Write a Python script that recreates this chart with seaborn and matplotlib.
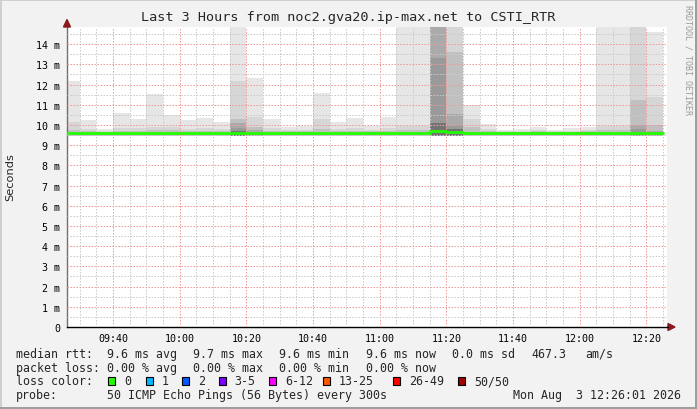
import matplotlib
matplotlib.use("Agg")
import matplotlib.pyplot as plt
import seaborn as sns
from matplotlib.patches import Rectangle, Polygon
from matplotlib.ticker import FixedLocator, MultipleLocator

W, H = 697, 410

# 5 minute steps, start of each step in minutes after 09:00
col_start = [25, 30, 35, 40, 45, 50, 55, 60, 65, 70, 75, 80, 85, 90, 95, 100,
             105, 110, 115, 120, 125, 130, 135, 140, 145, 150, 155, 160, 165,
             170, 175, 180, 185, 190, 195, 200, 205]

# smoke (ms), bottom edge and the upper edges of each grey layer
smoke_min = [9.45, 9.45, 9.45, 9.45, 9.45, 9.45, 9.45, 9.45, 9.45, 9.45, 9.45,
             9.45, 9.45, 9.45, 9.45, 9.45, 9.45, 9.45, 9.45, 9.45, 9.45, 9.45,
             9.45, 9.45, 9.45, 9.45, 9.45, 9.45, 9.45, 9.45, 9.45, 9.45, 9.45,
             9.45, 9.45, 9.45, 9.45]
smoke_max = [12.18, 10.25, 9.78, 10.6, 10.3, 11.53, 10.5, 10.26, 10.35, 10.16,
             15.0, 12.33, 10.3, 9.9, 9.97, 11.58, 10.13, 10.35, 9.93, 10.38,
             15.0, 15.0, 15.0, 15.0, 11.0, 10.05, 9.77, 9.82, 9.92, 9.75, 9.87,
             9.92, 15.0, 15.0, 15.0, 14.6, 9.45]
smoke_l2 = [10.15, 9.8, 9.7, 9.85, 9.85, 9.9, 9.9, 9.8, 9.85, 9.8, 12.2, 10.38,
            9.85, 9.75, 9.75, 10.3, 9.8, 9.85, 9.75, 9.85, 9.95, 9.95, 15.0,
            15.0, 10.3, 9.8, 9.7, 9.72, 9.75, 9.7, 9.72, 9.75, 9.95, 9.95, 15.0,
            11.4, 9.45]
smoke_l3 = [9.75, 9.7, 9.65, 9.72, 9.72, 9.75, 9.75, 9.7, 9.72, 9.7, 10.3, 9.9,
            9.72, 9.68, 9.68, 9.8, 9.7, 9.72, 9.68, 9.72, 9.75, 9.75, 15.0,
            13.6, 9.9, 9.7, 9.65, 9.65, 9.68, 9.65, 9.66, 9.68, 9.75, 9.75,
            11.25, 10.0, 9.45]
smoke_l4 = [9.45, 9.45, 9.45, 9.45, 9.45, 9.45, 9.45, 9.45, 9.45, 9.45, 10.1,
            9.75, 9.45, 9.45, 9.45, 9.45, 9.45, 9.45, 9.45, 9.45, 9.45, 9.45,
            15.0, 10.55, 9.45, 9.45, 9.45, 9.45, 9.45, 9.45, 9.45, 9.45, 9.45,
            9.45, 10.0, 9.7, 9.45]
smoke_l5 = [9.45, 9.45, 9.45, 9.45, 9.45, 9.45, 9.45, 9.45, 9.45, 9.45, 9.85,
            9.45, 9.45, 9.45, 9.45, 9.45, 9.45, 9.45, 9.45, 9.45, 9.45, 9.45,
            13.3, 10.0, 9.45, 9.45, 9.45, 9.45, 9.45, 9.45, 9.45, 9.45, 9.45,
            9.45, 9.8, 9.45, 9.45]
smoke_l6 = [9.45, 9.45, 9.45, 9.45, 9.45, 9.45, 9.45, 9.45, 9.45, 9.45, 9.72,
            9.45, 9.45, 9.45, 9.45, 9.45, 9.45, 9.45, 9.45, 9.45, 9.45, 9.45,
            10.1, 9.8, 9.45, 9.45, 9.45, 9.45, 9.45, 9.45, 9.45, 9.45, 9.45,
            9.45, 9.45, 9.45, 9.45]
median = [9.62, 9.62, 9.62, 9.62, 9.62, 9.62, 9.62, 9.62, 9.62, 9.62, 9.62,
          9.62, 9.62, 9.62, 9.62, 9.62, 9.62, 9.62, 9.62, 9.62, 9.62, 9.62,
          9.72, 9.67, 9.62, 9.62, 9.62, 9.62, 9.62, 9.62, 9.62, 9.62, 9.62,
          9.62, 9.62, 9.62, 9.62]

x_ticks = [40, 60, 80, 100, 120, 140, 160, 180, 200]
x_labels = ["09:40", "10:00", "10:20", "10:40", "11:00", "11:20", "11:40",
            "12:00", "12:20"]
y_ticks = list(range(0, 15))
y_labels = ["0"] + ["%d m" % v for v in range(1, 15)]

loss_labels = ["0", "1", "2", "3-5", "6-12", "13-25", "26-49", "50/50"]
loss_colors = ["#22ff00", "#00b8ff", "#0059ff", "#7e00ff", "#ff00ff",
               "#ff5500", "#ff0000", "#a10000"]

sns.set_theme(style="white")
plt.rcParams["font.family"] = ["DejaVu Sans Mono", "DejaVu Sans"]

fig = plt.figure(figsize=(W / 100, H / 100), dpi=100)
fig.patch.set_facecolor("#f2f2f2")


def fx(x):
    return x / W


def fy(y):
    return 1 - y / H


def box(x, y, w, h, color, **kw):
    fig.patches.append(Rectangle((fx(x), fy(y + h)), w / W, h / H,
                                 transform=fig.transFigure, facecolor=color,
                                 **kw))


# 3d frame
box(0, 0, W, 2, "#cfcfcf", linewidth=0)
box(0, 0, 2, H, "#cfcfcf", linewidth=0)
box(W - 2, 0, 2, H, "#9e9e9e", linewidth=0)
box(0, H - 2, W, 2, "#9e9e9e", linewidth=0)

ax = fig.add_axes([fx(67), fy(328), 600 / W, 300 / H])
ax.set_facecolor("white")

shades = ["#e6e6e6", "#d6d6d6", "#c0c0c0", "#aaaaaa", "#9a9a9a", "#747474"]
layers = [smoke_max, smoke_l2, smoke_l3, smoke_l4, smoke_l5, smoke_l6]
for tops, shade in zip(layers, shades):
    heights = [t - b for t, b in zip(tops, smoke_min)]
    ax.bar(col_start, heights, bottom=smoke_min, width=5, align="edge",
           color=shade, linewidth=0, zorder=1)

sns.lineplot(x=col_start, y=median, drawstyle="steps-post", color="#22ff00",
             linewidth=2.0, ax=ax, zorder=3)

ax.set_xlim(26.2, 206.2)
ax.set_ylim(0, 14.85)

ax.xaxis.set_major_locator(FixedLocator(x_ticks))
ax.set_xticklabels(x_labels)
ax.xaxis.set_minor_locator(MultipleLocator(5))
ax.set_yticks(y_ticks)
ax.set_yticklabels(y_labels)
ax.yaxis.set_minor_locator(MultipleLocator(0.5))

ax.set_axisbelow(False)
ax.grid(which="major", color="#f09a9a", linewidth=0.72,
        linestyle=(0, (1.5, 1.5)), zorder=2)
ax.grid(which="minor", color="#cacaca", linewidth=0.72,
        linestyle=(0, (1.5, 1.5)), zorder=2)
ax.tick_params(which="both", length=2, width=0.7, color="#c8a0a0")
ax.tick_params(axis="x", which="both", direction="out", pad=2,
               labelsize=7.2, labelcolor="black")
ax.tick_params(axis="y", which="both", direction="out", pad=3,
               labelsize=7.2, labelcolor="black")
ax.tick_params(which="minor", length=0)

for side in ("top", "right"):
    ax.spines[side].set_visible(False)
ax.spines["left"].set_color("#707070")
ax.spines["left"].set_linewidth(1)
ax.spines["bottom"].set_color("black")
ax.spines["bottom"].set_linewidth(1)
ax.set_xlabel("")
ax.set_ylabel("")

# axis arrows
arrow = "#8b1a1a"
fig.patches.append(Polygon([(fx(63.5), fy(28)), (fx(70.5), fy(28)),
                            (fx(67), fy(20.5))], closed=True,
                           transform=fig.transFigure, color=arrow))
fig.patches.append(Polygon([(fx(668), fy(324.5)), (fx(668), fy(331.5)),
                            (fx(675), fy(328))], closed=True,
                           transform=fig.transFigure, color=arrow))
fig.lines.append(plt.Line2D([fx(667), fx(668)], [fy(328), fy(328)],
                            transform=fig.transFigure, color="black", lw=1))

fig.text(fx(348.5), fy(18), "Last 3 Hours from noc2.gva20.ip-max.net to CSTI_RTR",
         ha="center", va="center", fontsize=9.7)
fig.text(fx(10.5), fy(177.5), "Seconds", rotation=90, ha="center", va="center",
         fontsize=8.2, family="DejaVu Sans")
fig.text(fx(688), fy(60), "RRDTOOL / TOBI OETIKER", rotation=270, ha="center",
         va="center", fontsize=6, color="#9a9a9a")

rows = [
    (354.3, [(16, "median rtt:"), (107, "9.6 ms avg"), (193, "9.7 ms max"),
             (279, "9.6 ms min"), (365.7, "9.6 ms now"), (451.7, "0.0 ms sd"),
             (531, "467.3"), (585, "am/s")]),
    (368.3, [(16, "packet loss:"), (107, "0.00 % avg"), (193, "0.00 % max"),
             (279, "0.00 % min"), (365.7, "0.00 % now")]),
    (382, [(16, "loss color:")]),
    (396, [(16, "probe:"), (107, "50 ICMP Echo Pings (56 Bytes) every 300s"),
           (513.3, "Mon Aug  3 12:26:01 2026")]),
]
for y, items in rows:
    for x, s in items:
        fig.text(fx(x), fy(y), s, ha="left", va="center", fontsize=8.4)

box_x = [108.3, 145.7, 182.3, 219, 269.3, 322.7, 393.3, 458.3]
for bx, lab, col in zip(box_x, loss_labels, loss_colors):
    box(bx, 378, 7, 8, col, edgecolor="black", linewidth=0.8)
    fig.text(fx(bx + 15.5), fy(382), lab, ha="left", va="center", fontsize=8.4)

fig.savefig("out.png", dpi=100, facecolor=fig.get_facecolor())
